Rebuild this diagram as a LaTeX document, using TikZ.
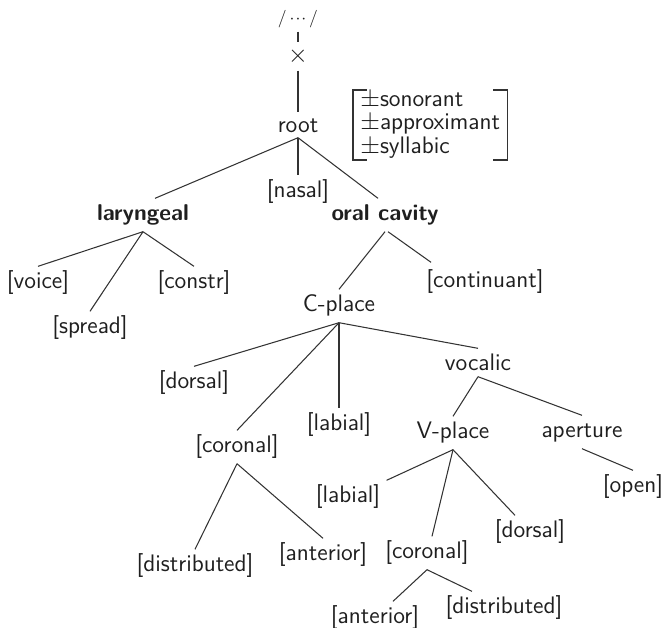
\documentclass[tikz,border=0pt]{standalone}
\usetikzlibrary{calc}
\begin{document}
\begin{tikzpicture}[x=0.02cm,y=-0.02cm,
  every node/.style={font=\sffamily\fontsize{13.6}{13.6}\selectfont, text=black!88,
    inner xsep=0pt, inner ysep=3.2pt, text height=9.2pt, text depth=3pt},
  bnode/.style={font=\sffamily\bfseries\fontsize{13}{13}\selectfont},
  conn/.style={line width=0.6pt, draw=black!80}]
\useasboundingbox (0,0) rectangle (665,627);
% nodes
\node[font=\sffamily\fontsize{10}{10}\selectfont] (dots) at (298,18) {/\,$\cdot\!\cdot\!\cdot$\,/};
\node (times) at (298,57) {$\times$};
\node (root) at (298,127) {root};
\node (nasal) at (298,192) {[nasal]};
\node[bnode] (lar) at (143,215) {laryngeal};
\node[bnode] (oral) at (385,215) {oral cavity};
\node (voice) at (38,283) {[voice]};
\node (spread) at (90,328) {[spread]};
\node (constr) at (194,283) {[constr]};
\node (cont) at (485,282) {[continuant]};
\node (cplace) at (339,306) {C-place};
\node (dorsalA) at (194,383) {[dorsal]};
\node (coronalA) at (237,447) {[coronal]};
\node (labialA) at (339,425) {[labial]};
\node (vocalic) at (478,365) {vocalic};
\node (vplace) at (453,433) {V-place};
\node (aperture) at (582,432) {aperture};
\node (open) at (633,487) {[open]};
\node (labialB) at (348,497) {[labial]};
\node (coronalB) at (427,553) {[coronal]};
\node (dorsalB) at (530,532) {[dorsal]};
\node (distA) at (195,566) {[distributed]};
\node (antA) at (323,555) {[anterior]};
\node (antB) at (375,618) {[anterior]};
\node (distB) at (504,608) {[distributed]};
% feature matrix
\node[anchor=west, align=left, text height=, text depth=, inner sep=0pt,
  font=\sffamily\fontsize{13.6}{13.3}\selectfont] (mat) at (360,125)
  {$\pm$sonorant\\$\pm$approximant\\$\pm$syllabic};
\draw[conn] ($(mat.west)+(7,-35)$) -- ($(mat.west)+(-7,-35)$) -- ($(mat.west)+(-7,35)$) -- ($(mat.west)+(7,35)$);
\draw[conn] ($(mat.east)+(-7,-35)$) -- ($(mat.east)+(7,-35)$) -- ($(mat.east)+(7,35)$) -- ($(mat.east)+(-7,35)$);
% connectors
\draw[conn] ($(dots.south)+(0,-3)$) -- ($(times.north)+(0,2)$);
\draw[conn] ($(times.south)+(0,-3)$) -- ($(root.north)+(0,2)$);
\draw[conn] ($(root.south)+(0,-6)$) -- ($(lar.north)+(12,0)$);
\draw[conn] ($(root.south)+(0,-6)$) -- (nasal.north);
\draw[conn] ($(root.south)+(0,-6)$) -- ($(oral.north)+(-7,0)$);
\draw[conn] (lar.south) -- (voice.north);
\draw[conn] (lar.south) -- (spread.north);
\draw[conn] (lar.south) -- (constr.north);
\draw[conn] (oral.south) -- (cplace.north);
\draw[conn] ($(oral.south)+(3,0)$) -- ($(cont.north west)+(5,-3)$);
\draw[conn] (cplace.south) -- (dorsalA.north);
\draw[conn] (cplace.south) -- (coronalA.north);
\draw[conn] (cplace.south) -- (labialA.north);
\draw[conn] (cplace.south) -- (vocalic.north);
\draw[conn] ($(vocalic.south)+(0,-5)$) -- (vplace.north);
\draw[conn] ($(vocalic.south)+(0,-5)$) -- (aperture.north);
\draw[conn] (aperture.south) -- (open.north);
\draw[conn] (vplace.south) -- ($(labialB.north east)+(6,0)$);
\draw[conn] (vplace.south) -- ($(coronalB.north)+(5,0)$);
\draw[conn] (vplace.south) -- ($(dorsalB.north)+(-15,0)$);
\draw[conn] (coronalA.south) -- (distA.north);
\draw[conn] (coronalA.south) -- (antA.north);
\draw[conn] (coronalB.south) -- ($(antB.north)+(18,0)$);
\draw[conn] (coronalB.south) -- ($(distB.north)+(-32,0)$);
\end{tikzpicture}
\end{document}
